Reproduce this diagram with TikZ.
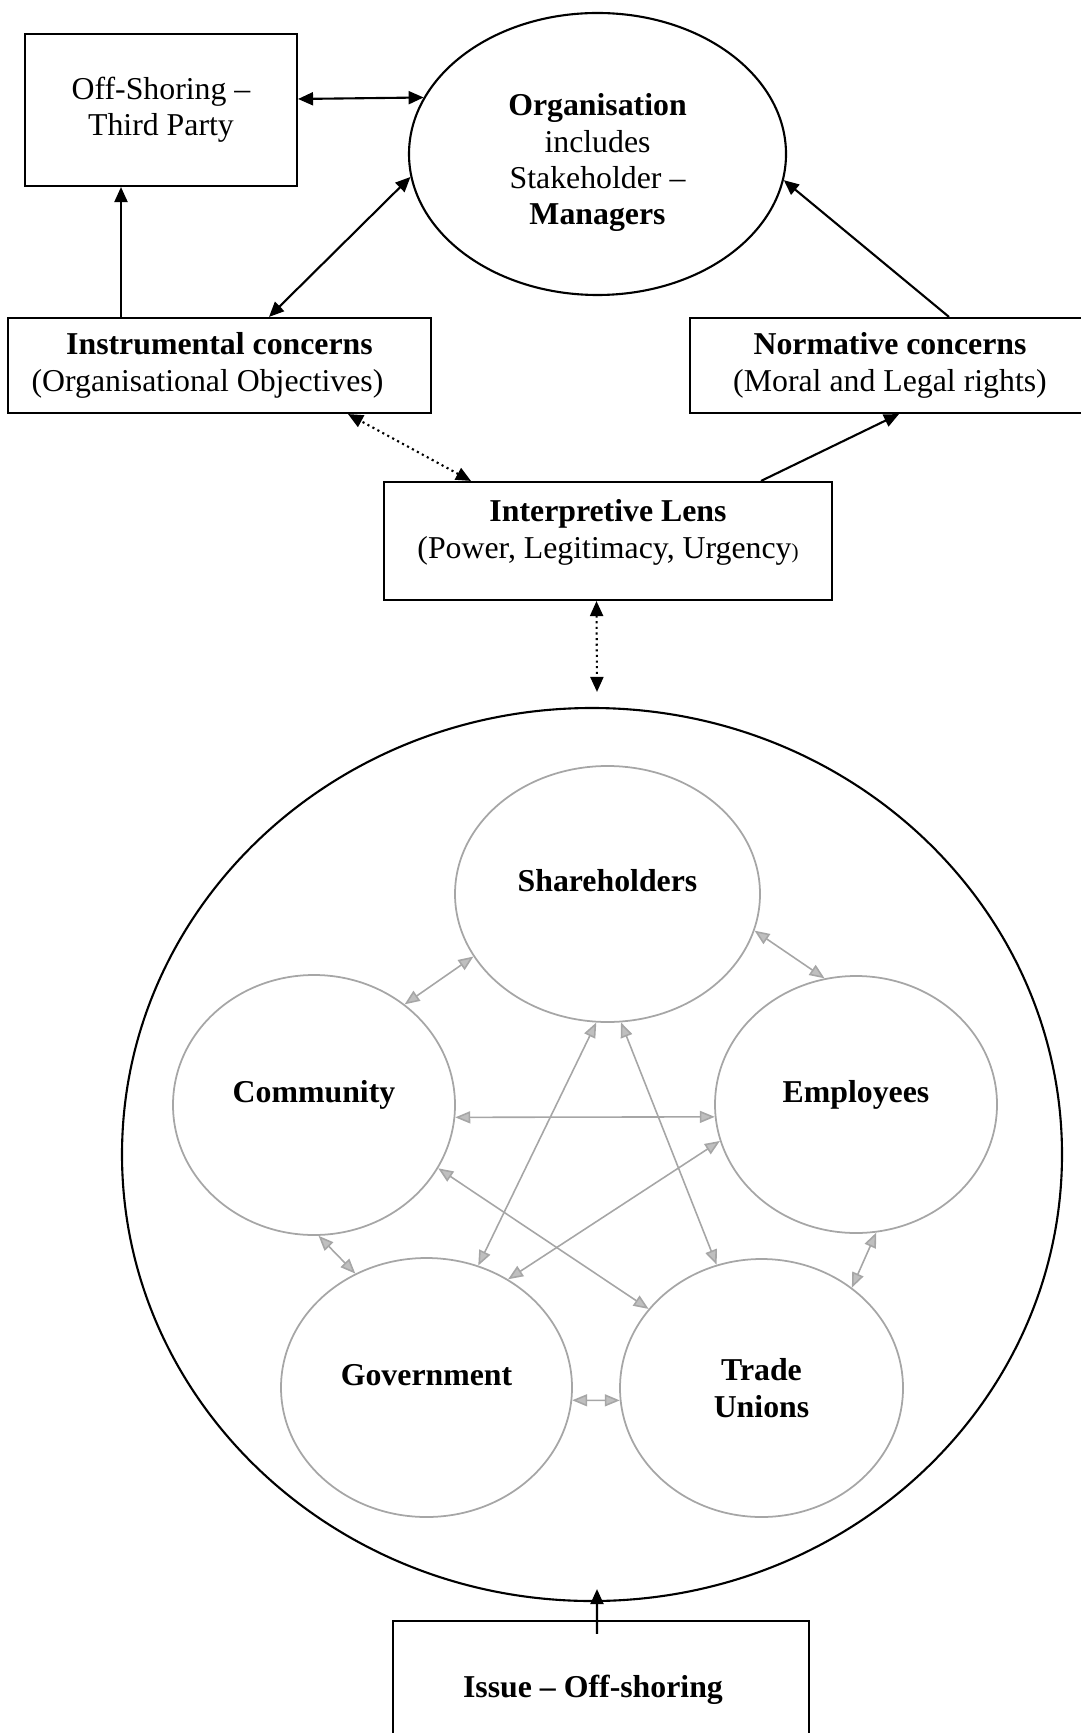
\documentclass[tikz,border=0pt]{standalone}
\usepackage{fontspec}
\setmainfont{Liberation Serif}
\usetikzlibrary{arrows.meta,shapes.geometric,positioning}
\tikzset{
    box/.style={rectangle, draw, line width=0.6pt, align=center, inner sep=0pt},
    org/.style={ellipse, draw, line width=0.6pt, align=center, inner sep=0pt},
    party/.style={ellipse, draw=gray!70, line width=0.5pt, inner sep=0pt, font=\bfseries},
    oneline/.style={text height=0.22cm, text depth=0.27cm},
    edge/.style={draw, line width=0.6pt, >={Triangle[length=0.15cm, width=0.13cm]}},
    dotted edge/.style={edge, densely dotted},
    grey edge/.style={draw=gray!70, line width=0.45pt, >={Triangle[length=0.15cm, width=0.12cm, fill=gray!50]}},
}

\begin{document}
\fontsize{9.05}{10.35}\selectfont
\begin{tikzpicture}
\useasboundingbox (0,0) rectangle (10.81,-17.33);

% Upper part
\node[box, minimum width=2.72cm, minimum height=1.52cm] (offshore) at (1.61,-1.10) {Off-Shoring --\\Third Party};
\node[org, minimum width=3.77cm, minimum height=2.82cm] (org) at (5.975,-1.54) {\mbox{}\\[1pt]\textbf{Organisation}\\includes\\Stakeholder --\\\textbf{Managers}};
\node[box, minimum width=4.23cm, minimum height=0.95cm] (instr) at (2.195,-3.655) {\textbf{Instrumental concerns}\\(Organisational Objectives)\hspace*{0.24cm}};
\node[box, minimum width=4.00cm, minimum height=0.95cm] (norm) at (8.90,-3.655) {\textbf{Normative concerns}\\(Moral and Legal rights)};
\node[box, minimum width=4.48cm, minimum height=1.18cm] (lens) at (6.08,-5.41) {\textbf{Interpretive Lens}\\(Power, Legitimacy, Urgency{\fontsize{6}{7}\selectfont)}\\[-3.5pt]\mbox{}};

% Stakeholder field
\node[ellipse, draw, line width=0.6pt, minimum width=9.40cm, minimum height=8.93cm, inner sep=0pt] (field) at (5.92,-11.545) {};
\node[party, oneline, minimum width=3.05cm, minimum height=2.56cm] (share) at (6.075,-8.94) {Shareholders};
\node[party, oneline, minimum width=2.82cm, minimum height=2.60cm] (comm) at (3.14,-11.05) {Community};
\node[party, oneline, minimum width=2.82cm, minimum height=2.57cm] (empl) at (8.56,-11.045) {Employees};
\node[party, oneline, minimum width=2.91cm, minimum height=2.59cm] (govt) at (4.265,-13.875) {Government};
\node[party, align=center, minimum width=2.83cm, minimum height=2.58cm] (union) at (7.615,-13.88) {Trade\\Unions};

\node[box, minimum width=4.16cm, minimum height=1.38cm, font=\bfseries] (issue) at (6.01,-16.90) {Issue -- Off-shoring\hspace*{0.16cm}};

% Black connectors
\draw[edge, <->] ([yshift=0.11cm]offshore.east) -- (org.162);
\draw[edge, ->] ([xshift=-0.985cm]instr.north) -- ([xshift=-0.40cm]offshore.south);
\draw[edge, <->] ([xshift=0.495cm]instr.north) -- (org.187);
\draw[edge, ->] ([xshift=0.59cm]norm.north) -- (org.352);
\draw[edge, ->] ([xshift=1.53cm]lens.north) -- ([xshift=0.09cm]norm.south);
\draw[dotted edge, <->] ([xshift=-1.37cm]lens.north) -- ([xshift=1.285cm]instr.south);
\draw[dotted edge, <->] ([xshift=-0.115cm]lens.south) -- ([xshift=0.05cm,yshift=0.15cm]field.north);
\draw[edge, ->] ([xshift=-0.04cm,yshift=-0.14cm]issue.north) -- ([xshift=0.05cm,yshift=0.13cm]field.south);

% Grey connectors between stakeholders
\foreach \a/\b in {share.205/comm.48, share.265/govt.67, comm.355/empl.185,
                   comm.333/union.145, comm.272/govt.122, empl.195/govt.53,
                   share.276/union.110, share.346/empl.104, empl.279/union.48,
                   govt.355/union.185}
  \draw[grey edge, <->] (\a) -- (\b);

\end{tikzpicture}
\end{document}
